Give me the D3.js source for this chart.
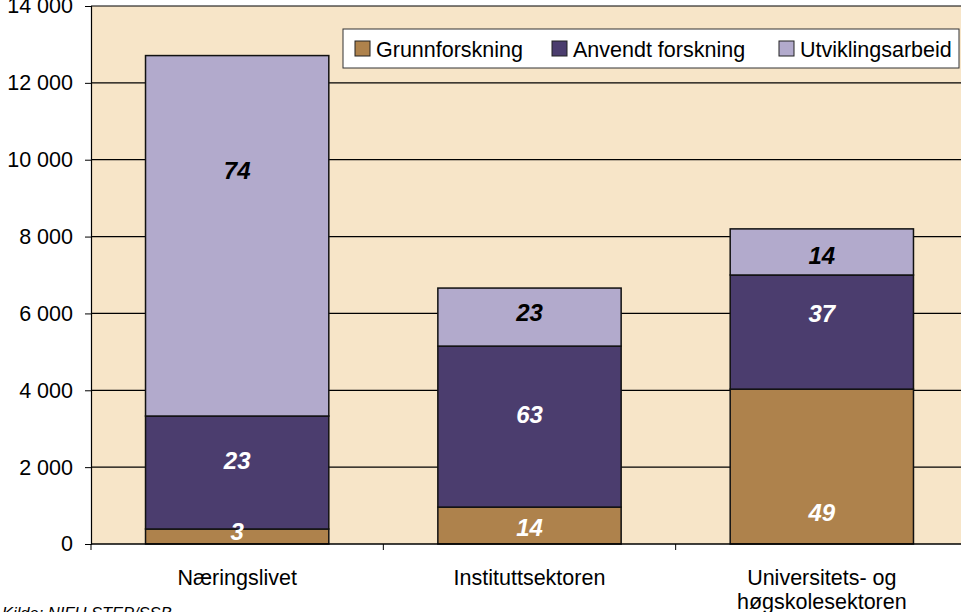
<!DOCTYPE html>
<html>
<head>
<meta charset="utf-8">
<script src="https://cdn.jsdelivr.net/npm/d3@7"></script>
<style>
  body { margin: 0; background: #fff; }
  svg { display: block; font-family: "Liberation Sans", Arial, sans-serif; }
</style>
</head>
<body>
<div id="chart"></div>
<script>
'use strict';

// categories and series
var categories = ['Næringslivet', 'Instituttsektoren', 'Universitets- og\nhøgskolesektoren'];
var seriesNames = ['Grunnforskning', 'Anvendt forskning', 'Utviklingsarbeid'];
var grunnforskning = [390, 960, 4030];
var anvendtForskning = [2940, 4190, 2970];
var utviklingsarbeid = [9380, 1510, 1200];
// percent share labels and the value (on the y scale) where each one sits
var pctLabels = [[3, 14, 49], [23, 63, 37], [74, 23, 14]];
var pctLabelAt = [[340, 440, 830], [2180, 3380, 6000], [9730, 6030, 7510]];
var yTicks = [0, 2000, 4000, 6000, 8000, 10000, 12000, 14000];

var colors = ['#AE824C', '#4B3D6E', '#B2AACC'];
var labelColors = ['#fff', '#fff', '#000'];

var width = 961, height = 612;
var margin = {top: 6, left: 91, bottom: 68};
var plotRight = 968;
var fontSize = 21.5;

var svg = d3.select('#chart').append('svg')
    .attr('width', width)
    .attr('height', height);

var x = d3.scaleBand()
    .domain(d3.range(categories.length))
    .range([margin.left, plotRight])
    .paddingInner(0.373)
    .paddingOuter(0.1865);

var y = d3.scaleLinear()
    .domain([0, 14000])
    .range([height - margin.bottom, margin.top]);

// plot background
svg.append('rect')
    .attr('x', margin.left)
    .attr('y', y(14000))
    .attr('width', plotRight - margin.left)
    .attr('height', y(0) - y(14000))
    .attr('fill', '#F7E5C8');

// y axis
var yAxis = svg.append('g')
    .attr('transform', 'translate(' + margin.left + ',0)')
    .call(d3.axisLeft(y).tickValues(yTicks)
        .tickSize(6)
        .tickFormat(function(d){ return d3.format(',')(d).replace(/,/g, ' '); }));
yAxis.select('.domain').attr('stroke', '#000').attr('stroke-width', 1.2);
yAxis.selectAll('text')
    .attr('font-size', fontSize)
    .attr('fill', '#000')
    .attr('font-family', '"Liberation Sans", Arial, sans-serif')
    .attr('x', -18);
yAxis.selectAll('.tick line').attr('stroke', '#000');

// gridlines
svg.append('g').selectAll('line')
    .data(yTicks.filter(function(d){ return d > 0; }))
    .enter().append('line')
        .attr('x1', margin.left)
        .attr('x2', plotRight)
        .attr('y1', function(d){ return y(d); })
        .attr('y2', function(d){ return y(d); })
        .attr('stroke', '#000')
        .attr('stroke-width', 1.2);

// stack the series
var rows = categories.map(function(c, i){
    return {i: i, g: grunnforskning[i], a: anvendtForskning[i], u: utviklingsarbeid[i]};
});
var stack = d3.stack().keys(['g', 'a', 'u'])(rows);

var layers = svg.append('g').selectAll('g')
    .data(stack)
    .enter().append('g')
        .attr('fill', function(d, k){ return colors[k]; });

layers.selectAll('rect')
    .data(function(d){ return d; })
    .enter().append('rect')
        .attr('x', function(d){ return x(d.data.i); })
        .attr('width', x.bandwidth())
        .attr('y', function(d){ return y(d[1]); })
        .attr('height', function(d){ return y(d[0]) - y(d[1]); })
        .attr('stroke', '#111')
        .attr('stroke-width', 1.5);

// value labels (percent shares)
stack.forEach(function(layer, k){
    svg.append('g').selectAll('text')
        .data(layer)
        .enter().append('text')
            .attr('x', function(d){ return x(d.data.i) + x.bandwidth() / 2; })
            .attr('y', function(d){ return y(pctLabelAt[k][d.data.i]); })
            .attr('dy', '0.36em')
            .attr('text-anchor', 'middle')
            .attr('font-size', 24)
            .attr('font-weight', 'bold')
            .attr('font-style', 'italic')
            .attr('fill', labelColors[k])
            .text(function(d){ return pctLabels[k][d.data.i]; });
});

// x axis
var step = x.step();
svg.append('line')
    .attr('x1', margin.left).attr('x2', plotRight)
    .attr('y1', y(0)).attr('y2', y(0))
    .attr('stroke', '#000').attr('stroke-width', 1.5);
svg.append('g').selectAll('line')
    .data(d3.range(categories.length + 1))
    .enter().append('line')
        .attr('x1', function(d){ return margin.left + d * step; })
        .attr('x2', function(d){ return margin.left + d * step; })
        .attr('y1', y(0))
        .attr('y2', y(0) + 6)
        .attr('stroke', '#000');

var catText = svg.append('g').selectAll('text')
    .data(categories)
    .enter().append('text')
        .attr('x', function(d, i){ return x(i) + x.bandwidth() / 2; })
        .attr('y', 585)
        .attr('text-anchor', 'middle')
        .attr('font-size', fontSize)
        .attr('fill', '#000');
catText.each(function(d){
    var t = d3.select(this);
    d.split('\n').forEach(function(line, j){
        t.append('tspan')
            .attr('x', t.attr('x'))
            .attr('dy', j === 0 ? 0 : 24)
            .text(line);
    });
});

// legend
var legendX = [355, 552, 779];
var legend = svg.append('g');
legend.append('rect')
    .attr('x', 343).attr('y', 29)
    .attr('width', 616).attr('height', 39)
    .attr('fill', '#fff')
    .attr('stroke', '#333')
    .attr('stroke-width', 1);
seriesNames.forEach(function(name, k){
    legend.append('rect')
        .attr('x', legendX[k]).attr('y', 41)
        .attr('width', 15).attr('height', 15)
        .attr('fill', colors[k])
        .attr('stroke', '#222');
    legend.append('text')
        .attr('x', legendX[k] + 21)
        .attr('y', 57)
        .attr('font-size', fontSize)
        .attr('fill', '#000')
        .text(name);
});

// source
svg.append('text')
    .attr('x', 2)
    .attr('y', 619)
    .attr('font-size', 16.5)
    .attr('font-style', 'italic')
    .attr('fill', '#000')
    .text('Kilde: NIFU STEP/SSB');
</script>
</body>
</html>
